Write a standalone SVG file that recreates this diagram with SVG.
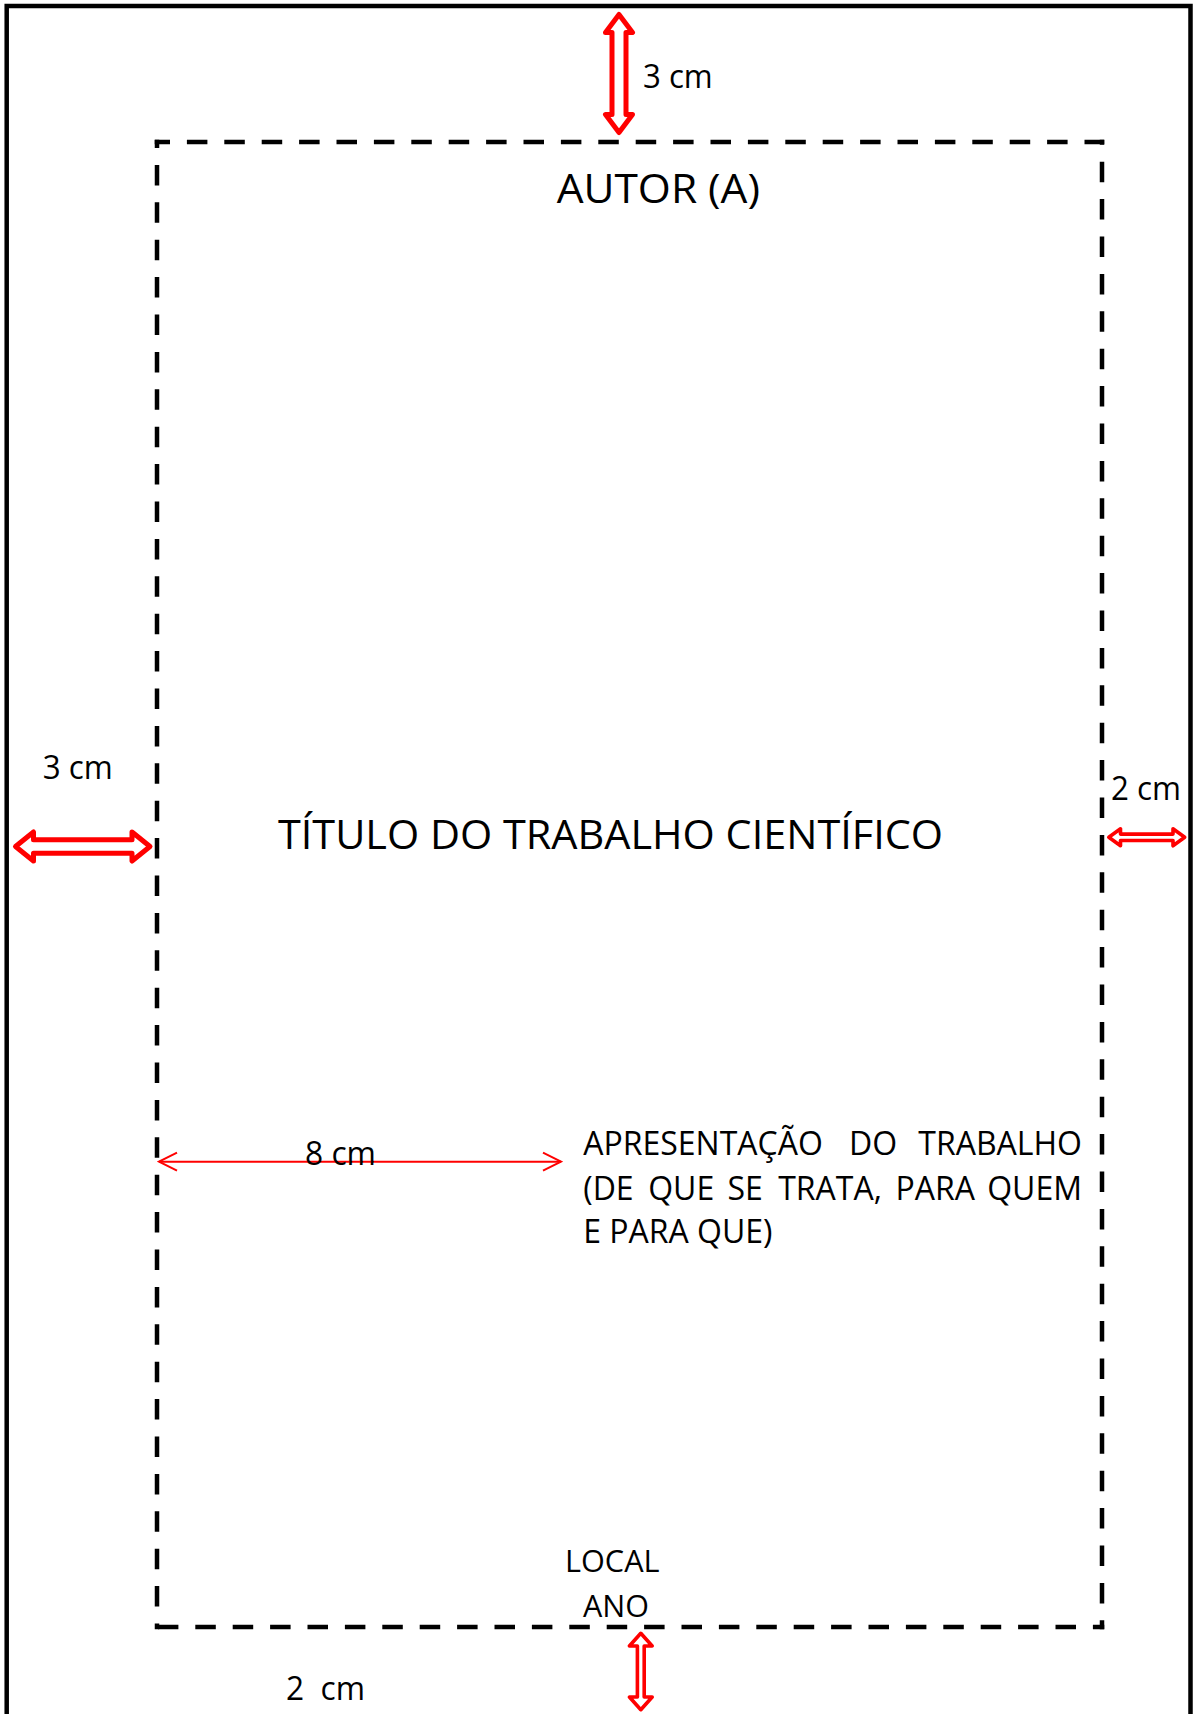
<svg xmlns="http://www.w3.org/2000/svg" width="1201" height="1714" viewBox="0 0 1201 1714">
  <style>
    .lbl { font-family: "Open Sans", "Liberation Sans", sans-serif; fill: #000; }
    .pr { font-size: 32px; }
    .dash { stroke: #000; stroke-width: 4.5; stroke-dasharray: 20.5 16.9; fill: none; }
    .blk { fill: #fff; stroke: #ff0000; stroke-linejoin: round; }
  </style>
  <defs>
    <marker id="chev" viewBox="-20 -11 22 22" refX="0" refY="0" markerWidth="22" markerHeight="22" markerUnits="userSpaceOnUse" orient="auto-start-reverse">
      <path d="M-18,-9 L0,0 L-18,9" fill="none" stroke="#ff0000" stroke-width="2"/>
    </marker>
  </defs>
  <rect width="1201" height="1714" fill="#fff"/>

  <g id="page">
    <rect x="6.7" y="6" width="1183.8" height="1730" fill="none" stroke="#000" stroke-width="4.5"/>
  </g>

  <g id="margin-box">
    <line class="dash" x1="154.75" y1="142" x2="1104.25" y2="142" stroke-dashoffset="5.25"/>
    <line class="dash" x1="157" y1="139.75" x2="157" y2="1629.25" stroke-dashoffset="12.25"/>
    <line class="dash" x1="1102" y1="139.75" x2="1102" y2="1629.25" stroke-dashoffset="15.45"/>
    <line class="dash" x1="154.75" y1="1627" x2="1104.25" y2="1627" stroke-dashoffset="34.25"/>
  </g>

  <g id="connectors">
    <polygon id="arrow-top" class="blk" stroke-width="5" points="619,14.5 632.5,32.5 626,32.5 626,114.5 632.5,114.5 619,132.5 605.5,114.5 612,114.5 612,32.5 605.5,32.5"/>
    <polygon id="arrow-left" class="blk" stroke-width="5" points="15.5,846.5 33.5,832 33.5,839.7 132,839.7 132,832 150,846.5 132,861 132,853.3 33.5,853.3 33.5,861"/>
    <polygon id="arrow-right" class="blk" stroke-width="3.6" points="1108.8,837.3 1120.5,828.8 1120.5,834.1 1173,834.1 1173,828.8 1184.7,837.3 1173,845.8 1173,840.5 1120.5,840.5 1120.5,845.8"/>
    <polygon id="arrow-bottom" class="blk" stroke-width="3.6" points="640.8,1633.3 652.2,1646 644.2,1646 644.2,1697 652.2,1697 640.8,1709.7 629.4,1697 637.4,1697 637.4,1646 629.4,1646"/>
    <line id="arrow-8cm" x1="159" y1="1161.7" x2="561" y2="1161.7" stroke="#ff0000" stroke-width="2" marker-start="url(#chev)" marker-end="url(#chev)"/>
  </g>

  <g id="label-top-3cm">
    <text class="lbl" x="643" y="88" font-size="33" textLength="69.7" lengthAdjust="spacingAndGlyphs">3 cm</text>
  </g>
  <g id="label-left-3cm">
    <text class="lbl" x="42.7" y="779.3" font-size="33" textLength="70" lengthAdjust="spacingAndGlyphs">3 cm</text>
  </g>
  <g id="label-right-2cm">
    <text class="lbl" x="1111" y="800" font-size="33" textLength="70" lengthAdjust="spacingAndGlyphs">2 cm</text>
  </g>
  <g id="label-8cm">
    <text class="lbl" x="305" y="1165" font-size="33" textLength="71" lengthAdjust="spacingAndGlyphs">8 cm</text>
  </g>
  <g id="label-bottom-2cm">
    <text class="lbl" x="286" y="1700" font-size="33" textLength="79" lengthAdjust="spacingAndGlyphs" xml:space="preserve" style="white-space:pre">2  cm</text>
  </g>

  <g id="autor">
    <text class="lbl" x="556.7" y="203.3" font-size="40" textLength="203.3" lengthAdjust="spacingAndGlyphs">AUTOR (A)</text>
  </g>
  <g id="titulo">
    <text class="lbl" x="278" y="849" font-size="40" textLength="665" lengthAdjust="spacingAndGlyphs">TÍTULO DO TRABALHO CIENTÍFICO</text>
  </g>

  <g id="apresentacao">
    <text class="lbl pr" x="583.2" y="1155">APRESENTAÇÃO</text>
    <text class="lbl pr" x="873" y="1155" text-anchor="middle">DO</text>
    <text class="lbl pr" x="1082" y="1155" text-anchor="end">TRABALHO</text>
    <text class="lbl pr" x="583.2" y="1200">(DE</text>
    <text class="lbl pr" x="648.2" y="1200">QUE</text>
    <text class="lbl pr" x="727.4" y="1200">SE</text>
    <text class="lbl pr" x="778.2" y="1200">TRATA,</text>
    <text class="lbl pr" x="895.6" y="1200">PARA</text>
    <text class="lbl pr" x="1082" y="1200" text-anchor="end">QUEM</text>
    <text class="lbl pr" x="583.2" y="1243">E PARA QUE)</text>
  </g>

  <g id="local-ano">
    <text class="lbl" x="565" y="1571.7" font-size="31" textLength="94.6" lengthAdjust="spacingAndGlyphs">LOCAL</text>
    <text class="lbl" x="583" y="1617" font-size="31" textLength="66" lengthAdjust="spacingAndGlyphs">ANO</text>
  </g>
</svg>
